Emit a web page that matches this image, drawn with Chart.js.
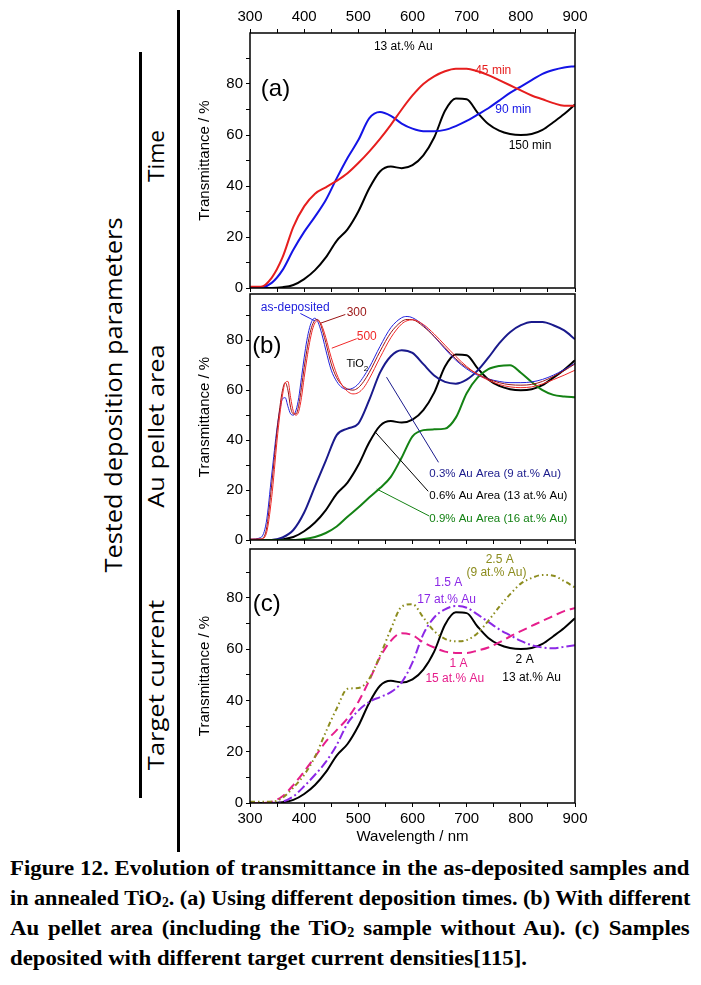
<!DOCTYPE html>
<html>
<head>
<meta charset="utf-8">
<script src="https://cdn.jsdelivr.net/npm/chart.js@4"></script>
<style>
  body { margin: 0; background: #fff; width: 701px; height: 985px; position: relative; overflow: hidden; }
  canvas { position: absolute; left: 180px; }
  .rule { position: absolute; background: #000; width: 3px; }
  .vlab { position: absolute; white-space: nowrap; font-family: "Open Sans", sans-serif; line-height: 1; color: #000; }
  .cap { position: absolute; left: 10px; white-space: nowrap; font-family: "Liberation Serif", "Times New Roman", serif;
         font-weight: bold; font-size: 22px; line-height: 30px; transform-origin: 0 0; color: #000; }
  .cap sub { font-size: 0.62em; vertical-align: -0.15em; line-height: 0; }
</style>
</head>
<body>
<div class="rule" style="left:177px;top:10px;height:842px"></div>
<div class="rule" style="left:139px;top:52px;height:746px"></div>
<div class="vlab" data-cx="113" data-cy="395" data-len="355" style="font-size:23px">Tested deposition parameters</div>
<div class="vlab" data-cx="156" data-cy="156" data-len="52" style="font-size:21px">Time</div>
<div class="vlab" data-cx="156" data-cy="426" data-len="163" style="font-size:21px">Au pellet area</div>
<div class="vlab" data-cx="156" data-cy="685" data-len="170" style="font-size:21px">Target current</div>

<canvas id="plotA" width="420" height="300" style="top:0px"></canvas>
<canvas id="plotB" width="420" height="270" style="top:282px"></canvas>
<canvas id="plotC" width="420" height="313" style="top:537px"></canvas>

<span class="cap" data-len="680" style="top:853px">Figure 12. Evolution of transmittance in the as-deposited samples and</span>
<span class="cap" data-len="680" style="top:883px">in annealed TiO<sub>2</sub>. (a) Using different deposition times. (b) With different</span>
<span class="cap" data-len="680" style="top:913px">Au pellet area (including the TiO<sub>2</sub> sample without Au). (c) Samples</span>
<span class="cap" data-len="517" style="top:943px">deposited with different target current densities[115].</span>

<script>
// longitudes de onda (nm) para la mayoría de las curvas
let wl = [300,320,340,360,380,400,420,440,460,480,500,520,540,560,580,600,620,640,660,680,700,720,740,760,780,800,820,840,860,880,900];
// rejilla más fina para las curvas de TiO2 (picos estrechos)
let wlTiO2 = [300,320,330,340,350,355,360,365,370,375,380,385,390,395,400,405,410,415,420,425,430,435,440,450,460,470,480,490,500,510,520,540,560,580,590,600,620,640,660,680,700,720,740,760,780,800,820,840,860,880,900];

// (a) tiempo de deposición
let t45min  = [0.5,0.5,4,12,24,32,37,39.5,42,45,49,53.5,58.5,64,70,75.5,80,83,85,86,86,85,83.5,81.5,79.5,77.5,75.5,74,72.5,71.5,71.5];
let t90min  = [0.3,0.3,2,7,15,22,28,34.5,43,51,58,66.5,69,67.5,64.5,62.5,61.5,61.5,62,63.5,65.5,68,70.5,73.5,76.5,79,81.5,84,85.5,86.5,87];
// 150 min = 0.6% Au = 2 A (13 at.% Au)
let t150min = [0,0,0,0.3,1.2,3.5,7,12,18.5,23,30,39,45.7,47.6,47,48.2,52,59,69.5,74.3,74,68.8,64.3,61.7,60.4,60,60.4,62,65,68.2,72];

// (b) TiO2 y área de pastilla de Au
let tAsDep = [0.3,1,7,26,45,52,56.5,57,53.5,50.5,50,52,57,65,73,80,85,88,88.8,87.5,84.5,80.5,76,68,63.5,61,60.3,60.8,62.5,65.5,69,77.5,85,89,89.5,89,86,81.5,76.5,72,68.5,66,64.5,63.5,63,63,63.3,64.3,66,68.2,70.8];
let t300   = [0.3,0.5,4,22,44,53,60,63,60,53,50.5,50.5,54,61,69,76,82,86,88,88.3,86.5,83,79,70.5,65,62,60.5,60,61,63.5,67,75.5,83,87.5,88.3,88.2,85.5,81.5,77,72.5,69,66.5,64.5,63,62.2,62,62.3,63.5,65.5,67.8,70.5];
let t500   = [0.3,0.3,2.5,17,40,50,58,63,63.5,57,51.5,50,51.5,57,65,72.5,79,84,87,87.8,87,84.5,81,73,66.5,62,59.5,58.5,59,61,64.5,73,81,86.5,87.8,88.2,86.3,82.5,78,73.5,69.5,66.3,64,62.3,61.3,61,61.3,62.5,64.2,66,68];
let tAu03  = [0,0,0,1,4,11,21.5,31.8,42,44.6,46.6,56,67,73.6,76,74.9,70.4,65.9,63.3,62.6,64.2,67.8,73,78.7,83.2,86,87.3,87.3,86,83.9,80.4];
let tAu09  = [0,0,0,0,0,0.4,1.2,2.8,5.4,9.3,13,17,20.8,25.3,33,41.5,44,44.3,44.6,49,58.8,65,68.4,69.7,70,67,63.3,60,58.1,57.5,57.2];

// (c) corriente del blanco
let t25A = [0.5,0.5,0.5,2,6,11,18,27.7,36.8,44.5,44.8,48.4,57.4,67.7,76.5,77.5,72.3,67,64,63,63.5,66.2,71,76.4,81.3,85.5,87.7,88.9,88.6,86.5,84];
let t15A = [0,0,0,0.5,2.6,6.5,11,16,22.6,31,36,39.4,41.3,43.2,47,54.8,65.8,72.3,75.5,76.8,76.1,73.5,70.6,67.7,65.4,63.2,61.5,60.6,60.3,60.9,61.5];
let t1A  = [0,0,0.5,2.6,7,12.3,18,23.9,28.4,33,39.4,47.7,56.8,63.2,66.2,65.4,62.6,60.6,59,58.5,58.5,59.4,60.6,62.6,64.9,67,69,71,72.9,74.8,76];

let xTicks = [300,400,500,600,700,800,900];
let yTicks = [0,20,40,60,80];

Chart.defaults.font.family = '"Liberation Sans", Arial, sans-serif';
Chart.defaults.color = "#000";

let pts = (xs, ys) => xs.map((x, i) => ({ x: x, y: ys[i] }));

let serie = (xs, ys, color, width, dash) => ({
  data: pts(xs, ys),
  borderColor: color,
  borderWidth: width,
  borderDash: dash || [],
  pointRadius: 0,
  cubicInterpolationMode: "monotone",
  fill: false,
});

// texto y líneas guía sobre el gráfico, en coordenadas de datos
let notas = {
  id: "notas",
  afterDatasetsDraw(chart, args, opts) {
    let ctx = chart.ctx;
    let sx = chart.scales.x;
    let sy = chart.scales.y;
    let a = chart.chartArea;
    ctx.save();
    ctx.strokeStyle = "#000";
    ctx.lineWidth = 1.5;
    ctx.strokeRect(a.left, a.top, a.right - a.left, a.bottom - a.top);
    (opts.lineas || []).forEach((l) => {
      ctx.strokeStyle = l.color;
      ctx.lineWidth = 1;
      ctx.beginPath();
      ctx.moveTo(sx.getPixelForValue(l.x1), sy.getPixelForValue(l.y1));
      ctx.lineTo(sx.getPixelForValue(l.x2), sy.getPixelForValue(l.y2));
      ctx.stroke();
    });
    (opts.textos || []).forEach((t) => {
      let size = t.size || 12;
      ctx.font = size + 'px "Liberation Sans", Arial, sans-serif';
      ctx.fillStyle = t.color || "#000";
      ctx.textAlign = t.align || "center";
      ctx.textBaseline = "middle";
      let px = sx.getPixelForValue(t.x);
      let py = sy.getPixelForValue(t.y);
      ctx.fillText(t.text, px, py);
      if (t.sub) {
        let w = ctx.measureText(t.text).width;
        ctx.font = "8px " + '"Liberation Sans", Arial, sans-serif';
        ctx.textAlign = "left";
        ctx.fillText(t.sub, px + w, py + 5);
      }
    });
    ctx.restore();
  },
};

let ejeX = (showLabels, height, title) => ({
  type: "linear",
  position: "bottom",
  min: 300,
  max: 900,
  afterBuildTicks: (s) => { s.ticks = [300,350,400,450,500,550,600,650,700,750,800,850,900].map((v) => ({ value: v })); },
  ticks: {
    display: showLabels,
    font: { size: 15 },
    padding: 3,
    maxRotation: 0,
    autoSkip: false,
    callback: (v) => (xTicks.includes(v) ? v : ""),
  },
  grid: { drawOnChartArea: false, drawTicks: true, tickLength: 4, color: "#000" },
  border: { display: false },
  title: { display: !!title, text: title || "", font: { size: 15 }, padding: { top: 0, bottom: 4 } },
  afterFit: (s) => { s.height = height; },
});

let ejeY = (max) => ({
  type: "linear",
  min: 0,
  max: max,
  afterBuildTicks: (s) => { s.ticks = [0,10,20,30,40,50,60,70,80,90].map((v) => ({ value: v })); },
  ticks: { font: { size: 15 }, padding: 3, callback: (v) => (yTicks.includes(v) ? v : "") },
  grid: { drawOnChartArea: false, drawTicks: true, tickLength: 4, color: "#000" },
  border: { display: false },
  title: { display: true, text: "Transmittance / %", font: { size: 15 }, padding: { top: 6, bottom: 4 } },
  afterFit: (s) => { s.width = 60; },
});

let opciones = (padding, scales, notasOpts) => ({
  responsive: false,
  animation: false,
  layout: { padding: padding },
  plugins: { legend: { display: false }, tooltip: { enabled: false }, notas: notasOpts },
  scales: scales,
});

// (a)
let scalesA = { x: ejeX(false, 0), y: ejeY(100) };
scalesA.x2 = Object.assign(ejeX(true, 33), { position: "top" });
new Chart(document.getElementById("plotA"), {
  type: "line",
  data: {
    datasets: [
      serie(wl, t45min, "#e61e1e", 2),
      serie(wl, t90min, "#1414e6", 2),
      serie(wl, t150min, "#000000", 2),
    ],
  },
  options: opciones({ left: 10, right: 25, top: 0, bottom: 8 }, scalesA, {
    textos: [
      { text: "13 at.% Au", x: 583, y: 94.5 },
      { text: "45 min", x: 749, y: 85.3, color: "#e61e1e" },
      { text: "90 min", x: 786, y: 70, color: "#1414e6" },
      { text: "150 min", x: 817, y: 56 },
      { text: "(a)", x: 347, y: 77.8, size: 24 },
    ],
  }),
  plugins: [notas],
});

// (b)
new Chart(document.getElementById("plotB"), {
  type: "line",
  data: {
    datasets: [
      serie(wlTiO2, t500, "#f02828", 1),
      serie(wlTiO2, t300, "#9a1414", 1),
      serie(wlTiO2, tAsDep, "#2222dd", 1),
      serie(wl, tAu09, "#148214", 2),
      serie(wl, tAu03, "#1a1a8c", 2),
      serie(wl, t150min, "#000000", 2),
    ],
  },
  options: opciones({ left: 10, right: 25, top: 10, bottom: 8 }, { x: ejeX(false, 0), y: ejeY(98.5) }, {
    lineas: [
      { x1: 393, y1: 90.7, x2: 420, y2: 87.7, color: "#2222dd" },
      { x1: 476, y1: 90.3, x2: 430, y2: 86.8, color: "#9a1414" },
      { x1: 497, y1: 80.6, x2: 451, y2: 76.8, color: "#f02828" },
      { x1: 552, y1: 65.2, x2: 648, y2: 31.1, color: "#1a1a8c" },
      { x1: 531, y1: 43.3, x2: 629, y2: 19.5, color: "#000000" },
      { x1: 534, y1: 20.4, x2: 631, y2: 9.6, color: "#148214" },
    ],
    textos: [
      { text: "as-deposited", x: 383.5, y: 93.2, color: "#2222dd" },
      { text: "300", x: 497, y: 91.2, color: "#9a1414" },
      { text: "500", x: 515.6, y: 81.3, color: "#f02828" },
      { text: "TiO", sub: "2", x: 478, y: 70.4, align: "left", size: 11 },
      { text: "(b)", x: 331, y: 77.4, size: 24 },
      { text: "0.3% Au Area (9 at.% Au)", x: 631, y: 26.6, align: "left", color: "#1a1a8c", size: 11.5 },
      { text: "0.6% Au Area (13 at.% Au)", x: 631, y: 17.6, align: "left", size: 11.5 },
      { text: "0.9% Au Area (16 at.% Au)", x: 631, y: 8.4, align: "left", color: "#148214", size: 11.5 },
    ],
  }),
  plugins: [notas],
});

// (c)
new Chart(document.getElementById("plotC"), {
  type: "line",
  data: {
    datasets: [
      serie(wl, t25A, "#8c8c1e", 2, [5, 3, 1.5, 3, 1.5, 3]),
      serie(wl, t1A, "#e61e8c", 2, [9, 5]),
      serie(wl, t15A, "#8c28e6", 2, [9, 3, 2, 3]),
      serie(wl, t150min, "#000000", 2),
    ],
  },
  options: opciones({ left: 10, right: 25, top: 10, bottom: 0 }, { x: ejeX(true, 47, "Wavelength / nm"), y: ejeY(99) }, {
    textos: [
      { text: "2.5 A", x: 761, y: 94.8, color: "#8c8c1e" },
      { text: "(9 at.% Au)", x: 755, y: 89.7, color: "#8c8c1e" },
      { text: "1.5 A", x: 666, y: 85.8, color: "#8c28e6" },
      { text: "17 at.% Au", x: 663, y: 79.4, color: "#8c28e6" },
      { text: "1 A", x: 685, y: 54.2, color: "#e61e8c" },
      { text: "15 at.% Au", x: 678, y: 48.4, color: "#e61e8c" },
      { text: "2 A", x: 807, y: 56 },
      { text: "13 at.% Au", x: 820, y: 49 },
      { text: "(c)", x: 331, y: 77.4, size: 24 },
    ],
  }),
  plugins: [notas],
});

// rótulos verticales de la izquierda, estirados a su longitud
document.querySelectorAll(".vlab").forEach((el) => {
  let w = el.offsetWidth;
  let k = Number(el.dataset.len) / w;
  el.style.left = el.dataset.cx + "px";
  el.style.top = el.dataset.cy + "px";
  el.style.transform = "translate(-50%,-50%) rotate(-90deg) scaleX(" + k + ")";
});

// pie de figura: la última línea fija la escala, las demás se justifican a 680 px
let caps = Array.from(document.querySelectorAll(".cap"));
let ultima = caps[caps.length - 1];
let escala = Number(ultima.dataset.len) / ultima.offsetWidth;
caps.forEach((el, i) => {
  let w = el.offsetWidth;
  let s = escala;
  if (i < caps.length - 1) {
    s = Math.min(escala, 680 / w);
    let huecos = (el.textContent.match(/ /g) || []).length;
    el.style.wordSpacing = (680 / s - w) / huecos + "px";
  }
  el.style.transform = "scaleX(" + s + ")";
});
</script>
</body>
</html>
